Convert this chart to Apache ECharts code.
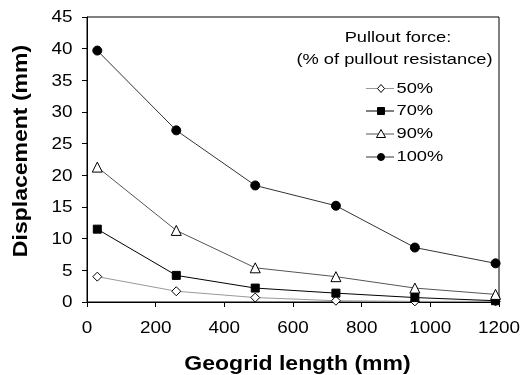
<!DOCTYPE html>
<html><head><meta charset="utf-8">
<script src="https://cdn.jsdelivr.net/npm/echarts@6/dist/echarts.min.js"></script>
<style>html,body{margin:0;padding:0;background:#fff}#c{width:527px;height:375px}</style>
</head><body><div id="c"></div>
<script>
var lengths = [30, 260, 490, 725, 955, 1190];
var names = ['50%', '70%', '90%', '100%'];
var d50 = [4.0, 1.7, 0.7, 0.2, 0.1, 0.1];
var d70 = [11.5, 4.2, 2.2, 1.4, 0.7, 0.2];
var d90 = [21.3, 11.3, 5.4, 4.0, 2.2, 1.2];
var d100 = [39.7, 27.1, 18.4, 15.2, 8.6, 6.1];
var xTicks = [0, 200, 400, 600, 800, 1000, 1200];
var yTicks = [0, 5, 10, 15, 20, 25, 30, 35, 40, 45];
var xTitle = 'Geogrid length (mm)';
var yTitle = 'Displacement (mm)';
var legendTitle1 = 'Pullout force:';
var legendTitle2 = '(% of pullout resistance)';

function pairs(v){ return lengths.map(function(x,i){ return [x, v[i]]; }); }
var font = '"Liberation Sans", Arial, sans-serif';
var SX = 1.18;
var chart = echarts.init(document.getElementById('c'));
var styles = [
  {symbol: 'diamond', fill: '#fff', line: '#999', size: 9},
  {symbol: 'rect', fill: '#000', line: '#000', size: 8},
  {symbol: 'triangle', fill: '#fff', line: '#555', size: 10},
  {symbol: 'circle', fill: '#000', line: '#333', size: 9}
];
var datasets = [d50, d70, d90, d100];
chart.setOption({
  animation: false,
  grid: {left: 87, right: 28, top: 17, bottom: 73, show: true, borderColor: '#000', borderWidth: 1},
  xAxis: {
    type: 'value', min: xTicks[0], max: xTicks[xTicks.length-1], interval: 200,
    axisLine: {lineStyle: {color: '#000'}}, axisTick: {length: 5, lineStyle: {color: '#000'}},
    axisLabel: {show: false}, splitLine: {show: false}
  },
  yAxis: {
    type: 'value', min: yTicks[0], max: yTicks[yTicks.length-1], interval: 5,
    axisLine: {show: true, lineStyle: {color: '#000'}}, axisTick: {show: true, length: 5, lineStyle: {color: '#000'}},
    axisLabel: {show: false}, splitLine: {show: false}
  },
  series: names.map(function(n, i){
    var s = styles[i];
    return {
      name: n, type: 'line', data: pairs(datasets[i]), symbol: s.symbol, symbolSize: s.size,
      lineStyle: {color: s.line, width: 1},
      itemStyle: {color: s.fill, borderColor: '#000', borderWidth: 1},
      emphasis: {disabled: true}, z: 3
    };
  })
});

var g = [];
function txt(x, y, text, size, bold, align, rot){
  g.push({type: 'text', x: x, y: y, scaleX: SX, rotation: rot || 0, z: 10,
    style: {text: text, font: (bold ? 'bold ' : '') + size + 'px ' + font, fill: '#000',
      align: align, verticalAlign: 'middle'}});
}
xTicks.forEach(function(v){
  var p = chart.convertToPixel({gridIndex: 0}, [v, 0]);
  txt(p[0], 329, String(v), 16, false, 'center');
});
yTicks.forEach(function(v){
  var p = chart.convertToPixel({gridIndex: 0}, [0, v]);
  txt(72.5, p[1] + 1, String(v), 16, false, 'right');
});
txt(297.5, 364.5, xTitle, 19.5, true, 'center');
txt(22, 151, yTitle, 19.5, true, 'center', Math.PI / 2);
txt(398, 37.5, legendTitle1, 15.5, false, 'center');
txt(394.5, 59.5, legendTitle2, 15.5, false, 'center');
var legendY = [88.5, 111, 134, 157];
names.forEach(function(n, i){
  var s = styles[i], y = legendY[i], cx = 381;
  g.push({type: 'line', shape: {x1: 366, y1: y, x2: 394, y2: y}, style: {stroke: s.line, lineWidth: 1}, z: 10});
  var m;
  if (s.symbol === 'circle') m = {type: 'circle', shape: {cx: cx, cy: y, r: 3.5}};
  else if (s.symbol === 'rect') m = {type: 'rect', shape: {x: cx - 3.5, y: y - 3.5, width: 7, height: 7}};
  else if (s.symbol === 'diamond') m = {type: 'polygon', shape: {points: [[cx, y - 4], [cx + 3.5, y], [cx, y + 4], [cx - 3.5, y]]}};
  else m = {type: 'polygon', shape: {points: [[cx, y - 4.5], [cx + 4.5, y + 3.5], [cx - 4.5, y + 3.5]]}};
  m.style = {fill: s.fill, stroke: '#000', lineWidth: 1}; m.z = 11;
  g.push(m);
  txt(396.5, y, n, 15.5, false, 'left');
});
chart.setOption({graphic: g});
</script></body></html>
